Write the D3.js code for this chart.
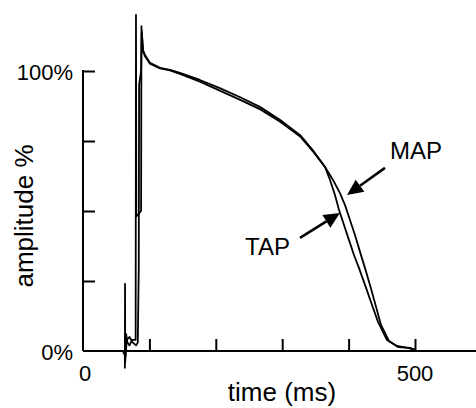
<!DOCTYPE html>
<html>
<head>
<meta charset="utf-8">
<script src="https://cdn.jsdelivr.net/npm/d3@7"></script>
<style>
  html, body { margin: 0; padding: 0; background: #fff; }
  svg { display: block; font-family: "Liberation Sans", Arial, sans-serif; }
</style>
</head>
<body>
<svg id="chart" width="476" height="408"></svg>
<script>
// ---- data ----
const xTicks = [100, 200, 300, 400, 500];
const yTicks = [25, 50, 75, 100];
const xTickLabels = [{v: 0, t: "0"}, {v: 500, t: "500"}];
const yTickLabels = [{v: 0, t: "0%"}, {v: 100, t: "100%"}];

const mapTime = [60, 63, 63.1, 63.3, 63.6, 65, 67, 70, 74, 79.3, 79.8, 80.3, 87.5, 88, 90.4, 93.4, 100.9, 116, 131, 146, 176, 206, 236, 267, 297, 327, 346, 364.5, 376.5, 387, 394.6, 402.1, 409.6, 417.2, 424.7, 432.2, 439.8, 448.8, 460.8, 474.4, 492.5, 500];
const mapAmp  = [0, 0, -6, 24, -4, 6, 3, 2, 4, 4, 120, 48, 50, 116, 107.5, 105.7, 102.9, 101.1, 100.4, 99.3, 96.8, 93.9, 90.7, 87.1, 82.5, 77.1, 71.8, 65.7, 61.1, 56.4, 52.1, 46.8, 41.4, 35.4, 29.6, 23.6, 17.1, 9.3, 3.6, 1.4, 1.1, 0.4];

const tapTime = [60, 64, 66, 70, 75, 80, 82.5, 84, 84.5, 87.5, 88.5, 90.4, 93.4, 100.9, 116, 131, 146, 176, 206, 236, 267, 297, 327, 346, 364.5, 372, 379.5, 385.5, 393.1, 400.6, 408.1, 415.7, 424.7, 433.7, 444.3, 457.8, 472.9, 492.5, 498.5];
const tapAmp  = [0, -2, 4, 5, 3, 2, 3, 30, 95, 100, 114, 107, 105.3, 102.6, 100.9, 100.2, 99.0, 96.2, 93.0, 89.8, 86.3, 81.9, 76.6, 71.4, 65.7, 61.1, 55.7, 50.4, 45.0, 39.6, 34.3, 29.6, 23.6, 17.5, 10.4, 3.9, 1.8, 0.9, 0.4];

const annotations = [
  {label: "MAP", from: [454.8, 65.4], to: [397.6, 55.7], text: [462.3, 68.6]},
  {label: "TAP", from: [326.8, 40.4], to: [387.0, 49.3], text: [244.0, 34.3]}
];

// ---- chart ----
const svg = d3.select("#chart");
const x = d3.scaleLinear().domain([0, 500]).range([83, 415]);
const y = d3.scaleLinear().domain([0, 100]).range([351, 71]);

const axisStroke = "#000";
svg.append("line").attr("x1", x(0)).attr("x2", 476).attr("y1", y(0)).attr("y2", y(0))
  .attr("stroke", axisStroke).attr("stroke-width", 2);
svg.append("line").attr("x1", x(0)).attr("x2", x(0)).attr("y1", y(0)).attr("y2", y(100) - 1)
  .attr("stroke", axisStroke).attr("stroke-width", 2);

const xAxis = d3.axisBottom(x).tickValues(xTicks).tickSize(-12).tickSizeOuter(0).tickFormat("");
const gx = svg.append("g").attr("transform", `translate(0,${y(0)})`).call(xAxis);
gx.select(".domain").remove();
gx.selectAll(".tick line").attr("stroke", axisStroke).attr("stroke-width", 2);

const yAxis = d3.axisLeft(y).tickValues(yTicks).tickSize(-12).tickSizeOuter(0).tickFormat("");
const gy = svg.append("g").attr("transform", `translate(${x(0)},0)`).call(yAxis);
gy.select(".domain").remove();
gy.selectAll(".tick line").attr("stroke", axisStroke).attr("stroke-width", 2);

svg.selectAll(".xl").data(xTickLabels).enter().append("text")
  .attr("x", d => x(d.v) + (d.v === 0 ? 2 : 0)).attr("y", 381)
  .attr("text-anchor", "middle").attr("font-size", 22).attr("fill", "#000").text(d => d.t);
svg.selectAll(".yl").data(yTickLabels).enter().append("text")
  .attr("x", 73).attr("y", d => y(d.v) + 9)
  .attr("text-anchor", "end").attr("font-size", 22).attr("fill", "#000").text(d => d.t);

svg.append("text").attr("x", 282).attr("y", 401).attr("text-anchor", "middle")
  .attr("font-size", 26).attr("fill", "#000").text("time (ms)");
svg.append("text").attr("transform", "translate(33,216) rotate(-90)").attr("text-anchor", "middle")
  .attr("font-size", 26).attr("fill", "#000").text("amplitude %");

const line = d3.line().x(d => x(d[0])).y(d => y(d[1]));
const mapData = mapTime.map((t, i) => [t, mapAmp[i]]);
const tapData = tapTime.map((t, i) => [t, tapAmp[i]]);
[tapData, mapData].forEach(data => {
  svg.append("path").datum(data).attr("d", line)
    .attr("fill", "none").attr("stroke", "#000").attr("stroke-width", 1.8)
    .attr("stroke-linejoin", "round");
});

annotations.forEach(a => {
  const x1 = x(a.from[0]), y1 = y(a.from[1]), x2 = x(a.to[0]), y2 = y(a.to[1]);
  const ang = Math.atan2(y2 - y1, x2 - x1);
  const hl = 16, hw = 7.5;
  const bx = x2 - hl * Math.cos(ang), by = y2 - hl * Math.sin(ang);
  svg.append("line").attr("x1", x1).attr("y1", y1).attr("x2", bx).attr("y2", by)
    .attr("stroke", "#000").attr("stroke-width", 2.5);
  const px = -Math.sin(ang) * hw, py = Math.cos(ang) * hw;
  svg.append("polygon")
    .attr("points", [[x2, y2], [bx + px, by + py], [bx - px, by - py]].map(p => p.join(",")).join(" "))
    .attr("fill", "#000");
  svg.append("text").attr("x", x(a.text[0])).attr("y", y(a.text[1]))
    .attr("font-size", 24).attr("fill", "#000").text(a.label);
});
</script>
</body>
</html>
